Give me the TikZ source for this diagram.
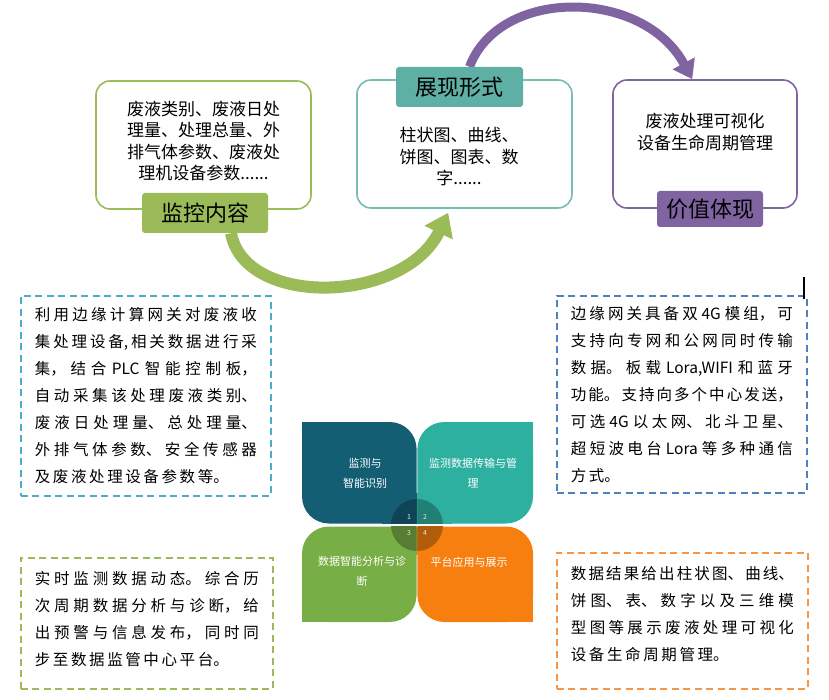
\documentclass[tikz,border=0pt]{standalone}
\usepackage{fontspec}
\setmainfont{Noto Sans CJK SC}
\usepackage{tikz}
\usetikzlibrary{arrows.meta,calc,backgrounds}
\definecolor{jkg}{HTML}{9BBB59}
\definecolor{zxt}{HTML}{5DB0A3}
\definecolor{zxl}{HTML}{76BDB3}
\definecolor{jzp}{HTML}{8064A2}
\definecolor{petA}{HTML}{135E73}
\definecolor{petB}{HTML}{2EB0A0}
\definecolor{petC}{HTML}{78AE46}
\definecolor{petD}{HTML}{F67F10}
\definecolor{dashA}{HTML}{4BACC6}
\definecolor{dashB}{HTML}{4F81BD}
\definecolor{dashC}{HTML}{9BBB59}
\definecolor{dashD}{HTML}{F79646}
\newcommand\notefont{\fontsize{15.5}{27}\selectfont
  \XeTeXlinebreaklocale "zh"\XeTeXlinebreakskip=2.6pt plus 2pt minus 1pt\relax}

\begin{document}
\begin{tikzpicture}[x=1pt,y=-1pt,
  topbox/.style={draw=#1,line width=1.6pt,rounded corners=14pt},
  labbox/.style={fill=#1,rounded corners=3pt,inner sep=0pt,font=\fontsize{22}{26}\selectfont},
  toptext/.style={inner sep=0pt,align=center,font=\fontsize{17}{21.5}\selectfont},
  notebox/.style={draw=#1,line width=1.8pt,dash pattern=on 7pt off 4.5pt,anchor=north west,
    inner xsep=14pt,inner ysep=0pt,align=justify,font=\notefont},
  leaftext/.style={inner sep=0pt,align=center,text=white,font=\fontsize{11}{20}\selectfont},
  garrow/.style={draw=jkg,line width=12pt,-{Triangle[length=22pt,width=30pt]}},
  parrow/.style={draw=jzp,line width=9pt,-{Triangle[length=18pt,width=24pt]}}]
  \useasboundingbox (0,0) rectangle (829,700);

  \node[topbox=jkg,minimum width=215pt,minimum height=128pt] (jkBox) at (203.5,145) {};
  \node[toptext] (jkText) at (203.5,141) {废液类别、废液日处\\理量、处理总量、外\\排气体参数、废液处\\理机设备参数......};
  \node[labbox=jkg,minimum width=126pt,minimum height=40pt] (jkLabel) at (205,213) {监控内容};

  \node[topbox=zxl,minimum width=215pt,minimum height=128pt] (zxBox) at (464.5,144) {};
  \node[toptext] (zxText) at (459,157) {柱状图、曲线、\\饼图、图表、数\\字......};
  \node[labbox=zxt,minimum width=127pt,minimum height=40pt] (zxLabel) at (459.5,87) {展现形式};

  \node[topbox=jzp,minimum width=184pt,minimum height=128pt] (jzBox) at (705,144) {};
  \node[toptext] (jzText) at (705,132) {废液处理可视化\\设备生命周期管理};
  \node[labbox=jzp,minimum width=106pt,minimum height=36pt] (jzLabel) at (710,209) {价值体现};

  \begin{scope}[on background layer]
    \draw[garrow] ($(jkLabel.south)+(26,0)$) .. controls +(14,75) and +(-44,91) .. ($(zxBox.south west)+(92,4)$);
    \draw[parrow] ($(zxLabel.north)+(10,0)$) .. controls +(30,-80) and +(-49,-91) .. ($(jzBox.north west)+(80,0)$);
  \end{scope}

  \node[notebox=dashA,text width=222pt,minimum height=200pt] (noteA) at (20,295)
    {利用边缘计算网关对废液收\linebreak 集处理设备,相关数据进行采\linebreak 集，结合 PLC 智能控制板，\linebreak 自动采集该处理废液类别、\linebreak 废液日处理量、总处理量、\linebreak 外排气体参数、安全传感器\linebreak 及废液处理设备参数等。};
  \node[notebox=dashB,text width=222pt,minimum height=197pt] (noteB) at (556,295)
    {边缘网关具备双 4G 模组，可\linebreak 支持向专网和公网同时传输\linebreak 数据。板载 Lora,WIFI 和蓝牙\linebreak 功能。支持向多个中心发送，\linebreak 可选 4G 以太网、北斗卫星、\linebreak 超短波电台 Lora 等多种通信\linebreak 方式。};
  \node[notebox=dashC,text width=224pt,minimum height=131pt] (noteC) at (20,557)
    {实时监测数据动态。综合历\linebreak 次周期数据分析与诊断，给\linebreak 出预警与信息发布，同时同\linebreak 步至数据监管中心平台。\rule[-9pt]{0pt}{1pt}};
  \node[notebox=dashD,text width=223pt,minimum height=136pt] (noteD) at (556,552)
    {数据结果给出柱状图、曲线、\linebreak 饼图、表、数字以及三维模\linebreak 型图等展示废液处理可视化\linebreak 设备生命周期管理。\rule[-14pt]{0pt}{1pt}};

  \coordinate (cc) at (417,525);
  \foreach \xa/\ya/\xb/\yb/\col in {302/422/416.6/523.5/petA,533/422/417.4/523.5/petB,
                                   302/622/416.6/526.5/petC,533/622/417.4/526.5/petD}{
    \fill[\col,rounded corners=27pt] (\xa,\ya) rectangle (\xb,\yb);
    \fill[\col] (\xa,\ya) rectangle ($(\xa,\ya)!0.3!(\xb,\yb)$);
    \fill[\col] (\xb,\yb) rectangle ($(\xb,\yb)!0.3!(\xa,\ya)$);
    \begin{scope}
      \clip (\xa,\ya) rectangle (\xb,\yb);
      \fill[\col!72!black] (cc) circle (26pt);
    \end{scope}
  }
  \node[leaftext] (leafA) at (365,473) {监测与\\智能识别};
  \node[leaftext] (leafB) at (473,473) {监测数据传输与管\\理};
  \node[leaftext] (leafC) at (362,571.5) {数据智能分析与诊\\断};
  \node[leaftext] (leafD) at (469,562) {平台应用与展示};
  \foreach \n/\dx/\dy in {1/-8/-8,2/8/-8,3/-8/8,4/8/8}
    \node[inner sep=0pt,text=white!80!gray,font=\fontsize{7}{8}\selectfont] (num\n) at ($(cc)+(\dx,\dy)$) {\n};

  \draw[line width=2pt] (804,277) -- (804,299);
\end{tikzpicture}
\end{document}
